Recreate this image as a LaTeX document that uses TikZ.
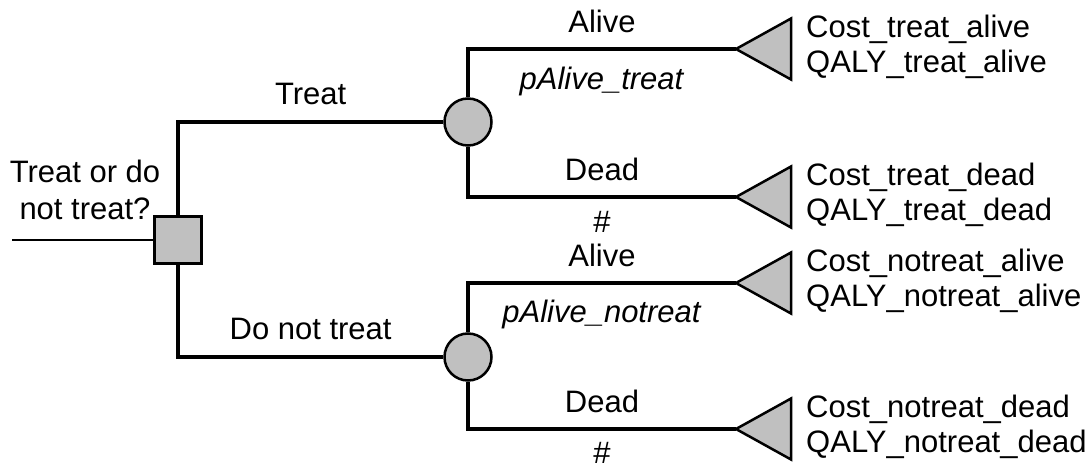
\documentclass[tikz,border=0pt]{standalone}
\usepackage{fontspec}
\setmainfont{Liberation Sans}
\definecolor{nodegray}{RGB}{192,192,192}

\begin{document}
\begin{tikzpicture}[x=1pt, y=-1pt, font=\fontsize{31}{35}\selectfont,
    branch/.style={line width=3.5pt},
    lbl/.style={inner sep=2pt},
    decision/.style={draw, line width=2.5pt, fill=nodegray, minimum size=47pt, inner sep=0},
    chance/.style={circle, draw, line width=2.5pt, fill=nodegray, minimum size=47pt, inner sep=0},
    terminal/.style={draw, line width=2.5pt, fill=nodegray},
    payoff/.style={right=70pt, align=left, inner sep=0, yshift=2pt}]
\useasboundingbox (0,0) rectangle (1088,468);

\coordinate (in) at (12,240);
\node[decision] (dec) at (178,240) {};
\node[chance] (ct) at (468,122) {};
\node[chance] (cn) at (468,357) {};
\coordinate (ta) at (736,49);
\coordinate (td) at (736,197);
\coordinate (na) at (736,283);
\coordinate (nd) at (736,429);

\node[align=center, inner sep=0] (q) at (85,190) {Treat or do\\[2pt]not treat?};

\draw[line width=1.8pt] (in) -- (dec);
\draw[branch] (dec) |- (ct) node[lbl, pos=0.75, above=13pt] (ltreat) {Treat};
\draw[branch] (dec) |- (cn) node[lbl, pos=0.75, above=13pt] (lnotreat) {Do not treat};

\draw[branch] (ct) |- (ta) node[lbl, pos=0.75, above=12pt] (la1) {Alive}
    node[lbl, pos=0.75, below=14pt] (pa1) {\textit{pAlive\_treat}};
\draw[branch] (ct) |- (td) node[lbl, pos=0.75, above=12pt] (ld1) {Dead}
    node[inner sep=0, pos=0.75, below=13pt] (pd1) {\#};
\draw[branch] (cn) |- (na) node[lbl, pos=0.75, above=12pt] (la2) {Alive}
    node[lbl, pos=0.75, below=13pt] (pa2) {\textit{pAlive\_notreat}};
\draw[branch] (cn) |- (nd) node[lbl, pos=0.75, above=12pt] (ld2) {Dead}
    node[inner sep=0, pos=0.75, below=12pt] (pd2) {\#};

% terminal triangles
\foreach \t in {ta,td,na,nd}
    \filldraw[terminal] (\t) -- ++(55,-30.5) -- ++(0,61) -- cycle;

\node[payoff] (ra) at (ta) {Cost\_treat\_alive\\QALY\_treat\_alive};
\node[payoff] (rd) at (td) {Cost\_treat\_dead\\QALY\_treat\_dead};
\node[payoff] (sa) at (na) {Cost\_notreat\_alive\\QALY\_notreat\_alive};
\node[payoff] (sd) at (nd) {Cost\_notreat\_dead\\QALY\_notreat\_dead};

\end{tikzpicture}
\end{document}
